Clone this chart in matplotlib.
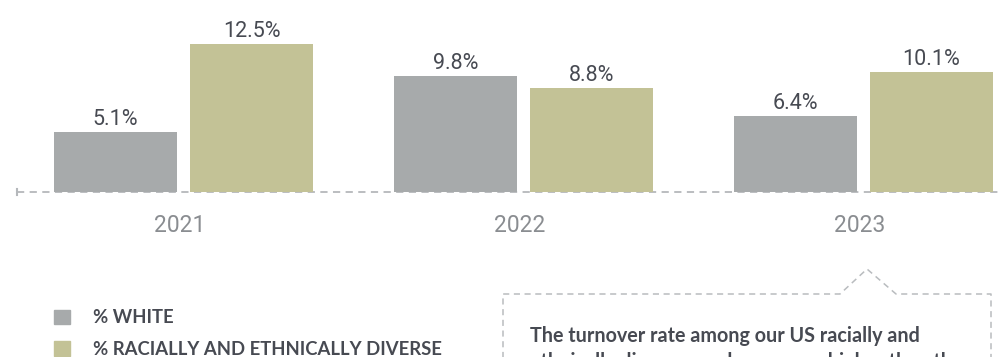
import numpy as np
import matplotlib.pyplot as plt
from matplotlib.patches import Patch
from matplotlib.lines import Line2D

years = ["2021", "2022", "2023"]
white = [5.1, 9.8, 6.4]
diverse = [12.5, 8.8, 10.1]
series_names = ["% WHITE", "% RACIALLY AND ETHNICALLY DIVERSE"]
callout_lines = ["The turnover rate among our US racially and",
                 "ethnically diverse employees was higher than the"]

GRAY = "#a7aaab"
TAN = "#c3c296"
DARK = "#474a52"
YEAR_COL = "#8a8d91"
DASH_COL = "#b5b8bb"

W, H = 1000, 357
fig = plt.figure(figsize=(W / 100, H / 100), dpi=100)

def fx(px):
    return px / W

def fy(py):
    return 1 - py / H

# axes: baseline at 192px, x from 17px to right edge
ax = fig.add_axes([fx(17), fy(192), fx(1000 - 17), 192 / H])
ax.set_ylim(0, 192 / 11.84)
ax.set_xlim((17 - 183.5) / 340, (1000 - 183.5) / 340)
ax.axis("off")

x = np.arange(len(years))
bw = 123 / 340
off = 68 / 340
b1 = ax.bar(x - off, white, bw, color=GRAY, zorder=3)
b2 = ax.bar(x + off, diverse, bw, color=TAN, zorder=3)

ax.axhline(0, color=DASH_COL, lw=1.3, ls=(0, (4, 3)), zorder=1, clip_on=False)
ax.plot([ax.get_xlim()[0]] * 2, [-0.25, 0.25], color=DASH_COL, lw=1.5, clip_on=False)

for bars in (b1, b2):
    for r in bars:
        v = r.get_height()
        ax.annotate(f"{v:.1f}%", (r.get_x() + r.get_width() / 2, v),
                    xytext=(0, 1.5), textcoords="offset points", ha="center", va="bottom",
                    fontsize=15.5, color=DARK, family="Roboto")

for i, yr in enumerate(years):
    ax.annotate(yr, (i, 0), xytext=(-3, -24), textcoords="offset points",
                ha="center", va="center", fontsize=16.5, color=YEAR_COL,
                family="Roboto")

handles = [Patch(color=GRAY), Patch(color=TAN)]
fig.legend(handles, series_names, loc="upper left", bbox_to_anchor=(fx(47), fy(302)),
           frameon=False, handlelength=0.85, handleheight=0.85, handletextpad=1.25,
           labelspacing=0.78, borderaxespad=0,
           prop={"family": "Lato", "weight": "bold", "size": 13.3}, labelcolor=DARK)

# callout box
px = [503, 503, 840, 867, 896, 991, 991]
py = [370, 294, 294, 269, 294, 294, 370]
fig.add_artist(Line2D([fx(p) for p in px], [fy(p) for p in py], color="#b9bcbf",
                      lw=1.1, ls=(0, (4, 3))))
for k, line in enumerate(callout_lines):
    fig.text(fx(530), fy(336 + 26 * k), line, ha="left", va="center",
             fontsize=14.2, family="Lato", fontweight="bold", color=DARK)

fig.savefig("out.png", dpi=100)
